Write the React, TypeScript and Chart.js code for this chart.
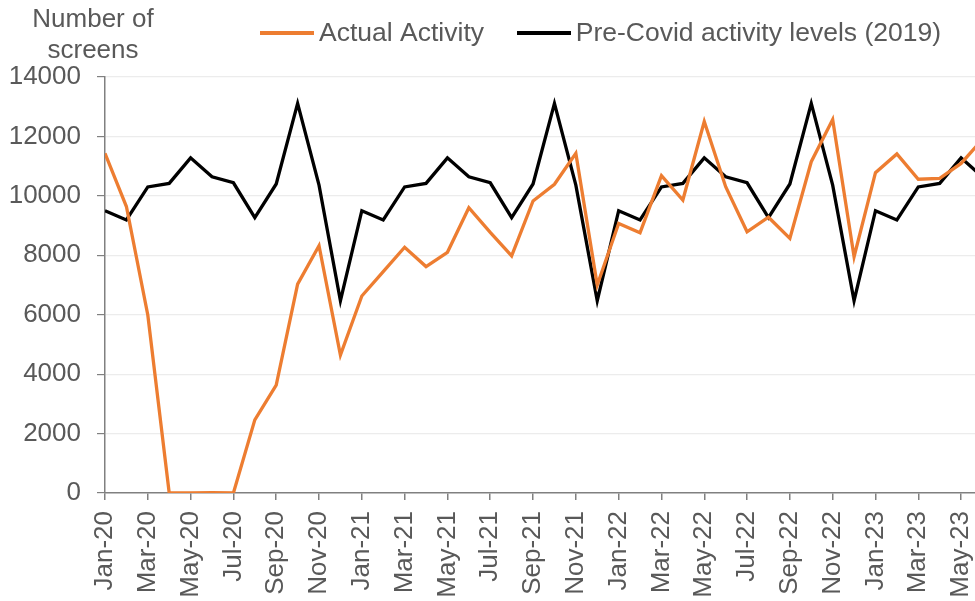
import React, { useEffect, useRef } from 'react';
import { Chart, registerables } from 'chart.js';

Chart.register(...registerables);

const monthLabels = [
  'Jan-20', 'Feb-20', 'Mar-20', 'Apr-20', 'May-20', 'Jun-20', 'Jul-20', 'Aug-20', 'Sep-20', 'Oct-20', 'Nov-20', 'Dec-20',
  'Jan-21', 'Feb-21', 'Mar-21', 'Apr-21', 'May-21', 'Jun-21', 'Jul-21', 'Aug-21', 'Sep-21', 'Oct-21', 'Nov-21', 'Dec-21',
  'Jan-22', 'Feb-22', 'Mar-22', 'Apr-22', 'May-22', 'Jun-22', 'Jul-22', 'Aug-22', 'Sep-22', 'Oct-22', 'Nov-22', 'Dec-22',
  'Jan-23', 'Feb-23', 'Mar-23', 'Apr-23', 'May-23', 'Jun-23',
];

const actualActivity = [
  11430, 9640, 5990, 0, 5, 15, 0, 2460, 3630, 7030, 8320, 4640,
  6630, 7450, 8270, 7620, 8100, 9600, 8770, 7980, 9830, 10390, 11430, 7000,
  9070, 8760, 10680, 9860, 12500, 10310, 8790, 9280, 8570, 11150, 12570, 7950,
  10780, 11410, 10560, 10590, 11090, 11900,
];

const preCovidLevels = [
  9500, 9190, 10300, 10420, 11280, 10640, 10440, 9270, 10400, 13110, 10360, 6470,
  9500, 9190, 10300, 10420, 11280, 10640, 10440, 9270, 10400, 13110, 10360, 6470,
  9500, 9190, 10300, 10420, 11280, 10640, 10440, 9270, 10400, 13110, 10360, 6470,
  9500, 9190, 10300, 10420, 11280, 10640,
];

const xTickIndices = [0, 2, 4, 6, 8, 10, 12, 14, 16, 18, 20, 22, 24, 26, 28, 30, 32, 34, 36, 38, 40];
const yMin = 0;
const yMax = 14000;
const yStep = 2000;
const xVisibleMax = 40.65;

const seriesNames = ['Actual Activity', 'Pre-Covid activity levels (2019)'];
const seriesColors = ['#ED7D31', '#000000'];
const axisTitleLines = ['Number of', 'screens'];

const FONT_FAMILY = '"Liberation Sans", Arial, Helvetica, sans-serif';
const TEXT_COLOR = '#595959';
const AXIS_COLOR = '#808080';
const GRID_COLOR = '#ececec';

const axisTitlePlugin = {
  id: 'axisTitle',
  afterDraw(chart: any) {
    const { ctx, chartArea } = chart;
    ctx.save();
    ctx.font = `26px ${FONT_FAMILY}`;
    ctx.fillStyle = TEXT_COLOR;
    ctx.textAlign = 'center';
    ctx.textBaseline = 'alphabetic';
    const cx = chartArea.left - 12;
    ctx.fillText(axisTitleLines[0], cx, chartArea.top - 50);
    ctx.fillText(axisTitleLines[1], cx, chartArea.top - 19);
    ctx.restore();
  },
};

function makeLegendLine(color: string) {
  const c = document.createElement('canvas');
  c.width = 54;
  c.height = 4;
  const g = c.getContext('2d');
  if (g) {
    g.fillStyle = color;
    g.fillRect(0, 0, 54, 4);
  }
  return c;
}

export default function App() {
  const canvasRef = useRef<HTMLCanvasElement | null>(null);

  useEffect(() => {
    document.body.style.margin = '0';
    const canvas = canvasRef.current;
    if (!canvas) return;
    const font = { family: FONT_FAMILY, size: 26 };
    const legendFont = { family: FONT_FAMILY, size: 26.5 };
    const chart = new Chart(canvas, {
      type: 'line',
      data: {
        datasets: [
          {
            label: seriesNames[0],
            data: actualActivity.map((v, i) => ({ x: i, y: v })),
            borderColor: seriesColors[0],
            backgroundColor: seriesColors[0],
            borderWidth: 3.3,
            pointRadius: 0,
            pointStyle: makeLegendLine(seriesColors[0]),
            tension: 0,
          },
          {
            label: seriesNames[1],
            data: preCovidLevels.map((v, i) => ({ x: i, y: v })),
            borderColor: seriesColors[1],
            backgroundColor: seriesColors[1],
            borderWidth: 3.3,
            pointRadius: 0,
            pointStyle: makeLegendLine(seriesColors[1]),
            tension: 0,
          },
        ],
      },
      options: {
        animation: false,
        responsive: false,
        maintainAspectRatio: false,
        layout: { padding: 0 },
        plugins: {
          tooltip: { enabled: false },
          legend: {
            position: 'top',
            align: 'end',
            labels: {
              usePointStyle: true,
              pointStyleWidth: 37.5,
              padding: 41,
              color: TEXT_COLOR,
              font: legendFont,
            },
          },
          subtitle: {
            display: true,
            text: '',
            position: 'top',
            weight: 500,
            font: { size: 1 },
            padding: { top: 0, bottom: 19.3 },
          },
        },
        scales: {
          x: {
            type: 'linear',
            min: 0,
            max: xVisibleMax,
            afterBuildTicks: (scale: any) => {
              scale.ticks = xTickIndices.map((v) => ({ value: v }));
            },
            afterFit: (scale: any) => {
              scale.paddingLeft = 0;
              scale.paddingRight = 7;
              scale.height = 108;
            },
            ticks: {
              autoSkip: false,
              includeBounds: false,
              minRotation: 90,
              maxRotation: 90,
              padding: 11,
              color: TEXT_COLOR,
              font,
              callback: (v: any) => monthLabels[Math.round(Number(v))],
            },
            grid: {
              drawOnChartArea: false,
              drawTicks: true,
              tickLength: 7,
              color: AXIS_COLOR,
              lineWidth: 1.5,
            },
            border: { color: AXIS_COLOR, width: 1.5 },
          },
          y: {
            min: yMin,
            max: yMax,
            afterFit: (scale: any) => {
              scale.width = 105;
            },
            ticks: {
              stepSize: yStep,
              padding: 16,
              color: TEXT_COLOR,
              font,
              callback: (v: any) => String(v),
            },
            grid: {
              color: (c: any) => (c.tick && c.tick.value === 0 ? 'rgba(0,0,0,0)' : GRID_COLOR),
              tickColor: AXIS_COLOR,
              tickLength: 8,
              lineWidth: 1.2,
            },
            border: { color: AXIS_COLOR, width: 1.5 },
          },
        },
      },
      plugins: [axisTitlePlugin],
    } as any);
    return () => chart.destroy();
  }, []);

  return (
    <div style={{ position: 'absolute', left: 0, top: 0, width: 975, height: 601, overflow: 'hidden', background: '#fff' }}>
      <canvas
        ref={canvasRef}
        width={982}
        height={622}
        style={{ position: 'absolute', left: 0, top: -21, width: 982, height: 622 }}
      />
    </div>
  );
}
